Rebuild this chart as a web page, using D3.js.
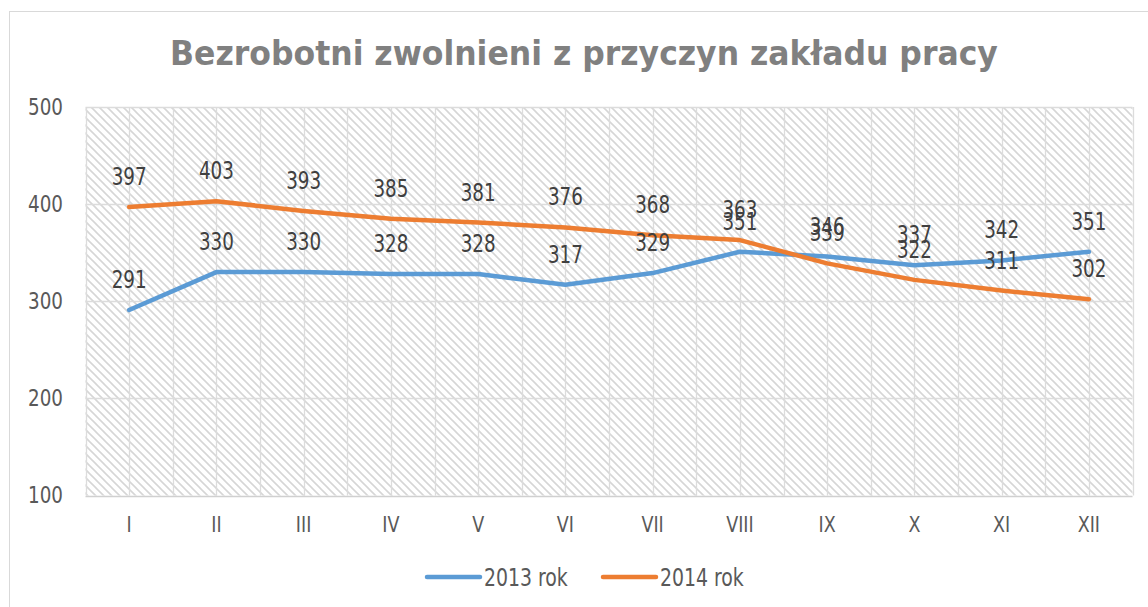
<!DOCTYPE html>
<html>
<head>
<meta charset="utf-8">
<script src="https://cdn.jsdelivr.net/npm/d3@7/dist/d3.min.js"></script>
<style>
    body { margin: 0; background: #fff; }
    text { font-family: 'DejaVu Sans Condensed', 'DejaVu Sans', sans-serif; }
</style>
</head>
<body>
<svg id="chart" width="1148" height="607"></svg>
<script>
const months = ["I", "II", "III", "IV", "V", "VI", "VII", "VIII", "IX", "X", "XI", "XII"];
const yTicks = [100, 200, 300, 400, 500];
const rok2013 = [291, 330, 330, 328, 328, 317, 329, 351, 346, 337, 342, 351];
const rok2014 = [397, 403, 393, 385, 381, 376, 368, 363, 339, 322, 311, 302];
const seriesNames = ["2013 rok", "2014 rok"];
const seriesColors = ["#5b9bd5", "#ed7d31"];
const chartTitle = "Bezrobotni zwolnieni z przyczyn zakładu pracy";

const svg = d3.select("#chart")

// measure text width so the (narrow) reference glyphs can be matched by squeezing
const measure = (str, size, weight) => {
    const t = svg.append("text").attr("font-size", size).attr("font-weight", weight || "normal").text(str)
    const w = t.node().getComputedTextLength()
    t.remove()
    return w
}
const sxLabel = 35 / measure("397", 24.5)
const sxTick = 35 / measure("500", 23)
const sxLegend = 48 / measure("2013", 25.5)
const sxTitle = 828 / measure(chartTitle, 34, "bold")

// outer frame
svg.append("rect")
    .attr("x", 9.5).attr("y", 11.5)
    .attr("width", 1160).attr("height", 620)
    .attr("fill", "#fff")
    .attr("stroke", "#d9d9d9")

// hatch pattern for plot area
const defs = svg.append("defs")
defs.append("pattern")
    .attr("id", "hatch")
    .attr("patternUnits", "userSpaceOnUse")
    .attr("width", 8).attr("height", 8)
    .append("path")
    .attr("d", "M-2,-2L10,10M-2,6L2,10M6,-2L10,2")
    .attr("stroke", "#d6d6d6")
    .attr("stroke-width", 1.6)

const x = d3.scaleBand().domain(months).range([85.5, 1132.5]).padding(0)
const y = d3.scaleLinear().domain([100, 500]).range([495.5, 107])
const cx = m => x(m) + x.bandwidth() / 2

svg.append("rect")
    .attr("x", x.range()[0]).attr("y", y(500))
    .attr("width", x.range()[1] - x.range()[0])
    .attr("height", y(100) - y(500))
    .attr("fill", "url(#hatch)")

// gridlines: vertical at every half category, horizontal at ticks
const halfSteps = d3.range(months.length * 2 + 1).map(i => x.range()[0] + i * x.step() / 2)
svg.append("g")
    .selectAll("line")
    .data(halfSteps)
    .join("line")
    .attr("x1", d => Math.round(d) + 0.5).attr("x2", d => Math.round(d) + 0.5)
    .attr("y1", y(500)).attr("y2", y(100))
    .attr("stroke", "#dcdcdc")
    .attr("stroke-width", 1.3)

svg.append("g")
    .selectAll("line")
    .data(yTicks)
    .join("line")
    .attr("x1", x.range()[0]).attr("x2", x.range()[1])
    .attr("y1", d => Math.round(y(d)) + 0.5).attr("y2", d => Math.round(y(d)) + 0.5)
    .attr("stroke", d => d === 100 ? "#d0d0d0" : "#dcdcdc")
    .attr("stroke-width", 1.3)

// axes
const yAxis = svg.append("g")
    .attr("transform", `translate(${x.range()[0]},0)`)
    .call(d3.axisLeft(y).tickValues(yTicks).tickSize(0).tickPadding(22.5 / sxTick))
yAxis.select(".domain").remove()
yAxis.selectAll("text")
    .attr("font-size", 23)
    .attr("font-family", null)
    .attr("fill", "#595959")
    .attr("transform", `scale(${sxTick},1)`)

const xAxis = svg.append("g")
    .attr("transform", `translate(0,${y(100)})`)
    .call(d3.axisBottom(x).tickSize(0).tickPadding(21))
xAxis.select(".domain").remove()
xAxis.selectAll("text")
    .attr("font-size", 22)
    .attr("font-family", null)
    .attr("fill", "#595959")
    .attr("transform", `scale(${sxTick},1)`)

// title
svg.append("text")
    .attr("transform", `translate(584,65) scale(${sxTitle},1)`)
    .attr("text-anchor", "middle")
    .attr("font-size", 34)
    .attr("font-weight", "bold")
    .attr("fill", "#808080")
    .text(chartTitle)

// lines + labels
const series = [rok2013, rok2014]
const line = d3.line().x((d, i) => cx(months[i])).y(d => y(d))

series.forEach((values, s) => {
    svg.append("path")
        .datum(values)
        .attr("d", line)
        .attr("fill", "none")
        .attr("stroke", seriesColors[s])
        .attr("stroke-width", 4.5)
        .attr("stroke-linejoin", "round")
        .attr("stroke-linecap", "round")
})

series.forEach((values, s) => {
    svg.append("g")
        .selectAll("text")
        .data(values)
        .join("text")
        .attr("transform", (d, i) => `translate(${cx(months[i])},${y(d) - 22}) scale(${sxLabel},1)`)
        .attr("text-anchor", "middle")
        .attr("font-size", 24.5)
        .attr("fill", "#404040")
        .text(d => d)
})

// legend
const legend = svg.append("g").attr("transform", "translate(427,577)")
const item = legend.selectAll("g")
    .data(seriesNames)
    .join("g")
    .attr("transform", (d, i) => `translate(${i * 176},0)`)
item.append("line")
    .attr("x1", 0).attr("x2", 53)
    .attr("stroke", (d, i) => seriesColors[i])
    .attr("stroke-width", 4.5)
    .attr("stroke-linecap", "round")
item.append("text")
    .attr("transform", `translate(57,9) scale(${sxLegend},1)`)
    .attr("font-size", 25.5)
    .attr("fill", "#595959")
    .text(d => d)
</script>
</body>
</html>
